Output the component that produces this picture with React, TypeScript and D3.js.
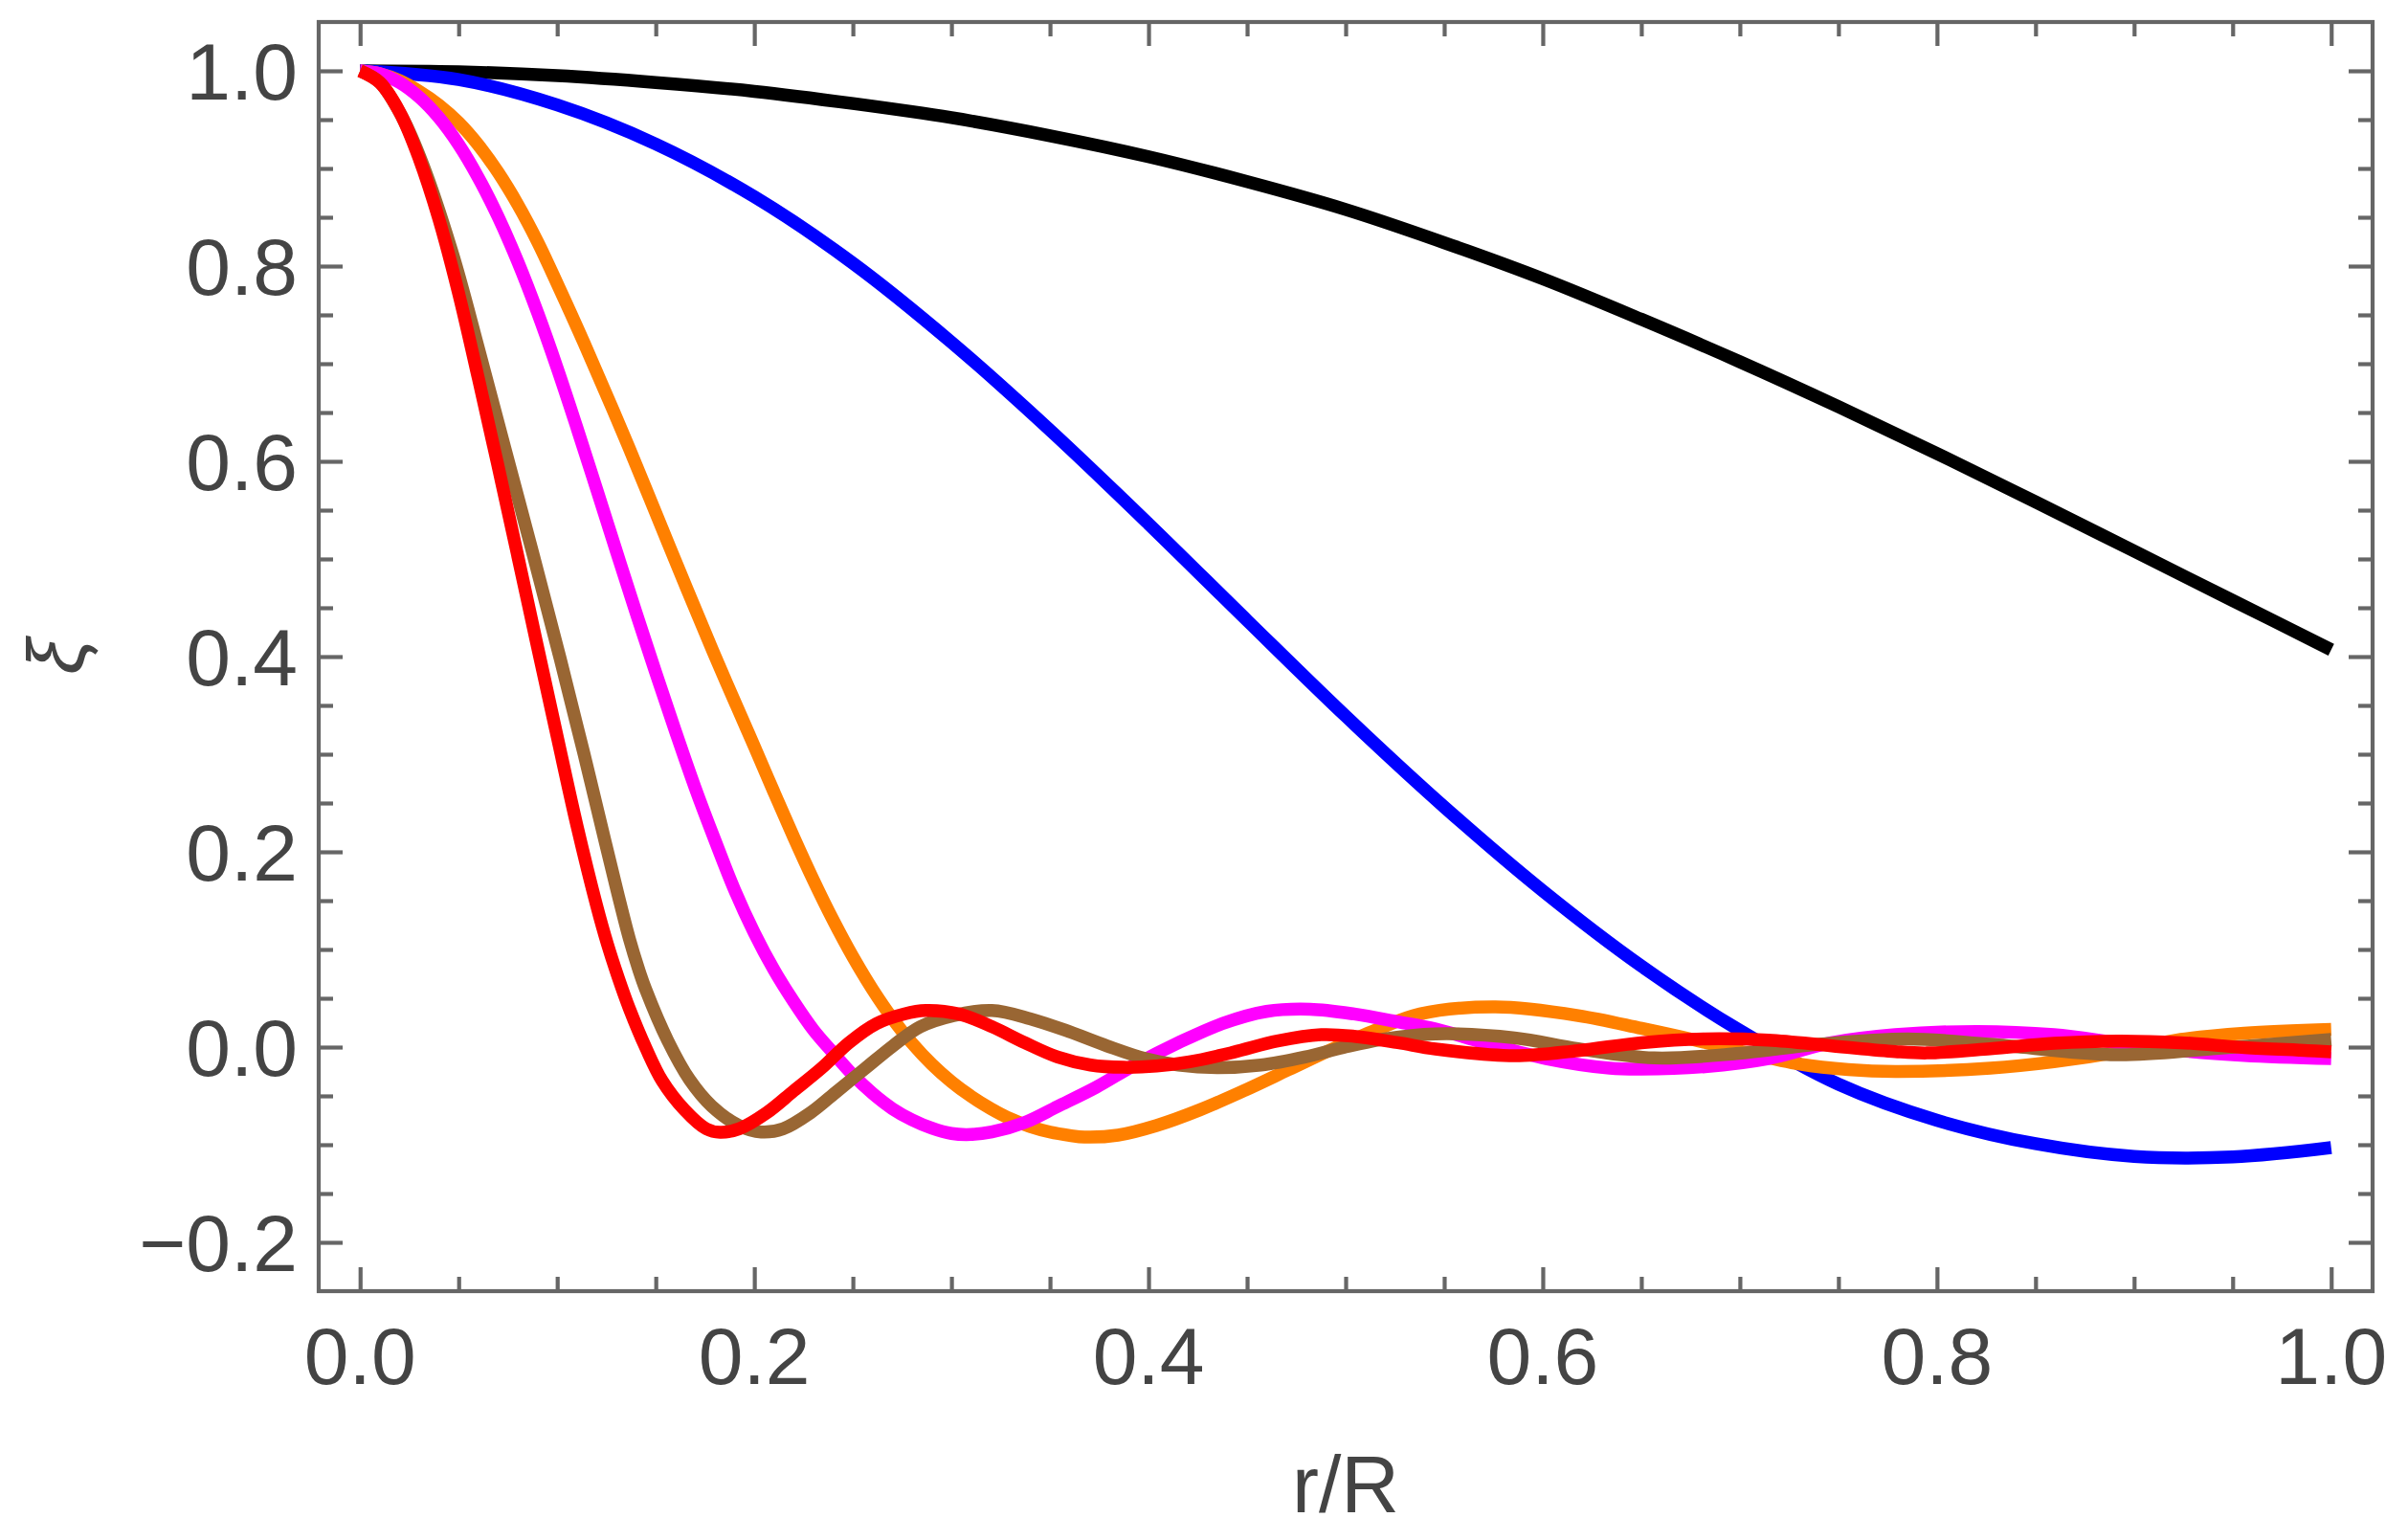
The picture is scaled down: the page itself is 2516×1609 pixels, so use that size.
import * as d3 from 'd3'
import React, { useRef, useEffect } from 'react'

// curves: r/R and xi for each colour
const blackR = [0, 0.05, 0.1, 0.15, 0.2, 0.25, 0.3, 0.35, 0.4, 0.45, 0.5, 0.55, 0.6, 0.65, 0.7, 0.75, 0.8, 0.85, 0.9, 0.95, 1]
const blackXi = [1, 0.999, 0.995, 0.988, 0.979, 0.9665, 0.952, 0.9335, 0.912, 0.8865, 0.858, 0.824, 0.787, 0.7455, 0.702, 0.656, 0.608, 0.5585, 0.508, 0.4575, 0.407]

const blueR = [0, 0.05, 0.1, 0.15, 0.2, 0.25, 0.3, 0.35, 0.4, 0.45, 0.5, 0.55, 0.6, 0.65, 0.7, 0.75, 0.8, 0.85, 0.9, 0.95, 1]
const blueXi = [1, 0.991, 0.965, 0.925, 0.871, 0.803, 0.722, 0.632, 0.536, 0.437, 0.339, 0.246, 0.16, 0.083, 0.017, -0.038, -0.075, -0.099, -0.112, -0.1125, -0.103]

const orangeR = [0, 0.01, 0.02, 0.03, 0.04, 0.05, 0.06, 0.07, 0.08, 0.09, 0.1, 0.1136, 0.1362, 0.1573, 0.1791, 0.2, 0.21, 0.22, 0.23, 0.24, 0.25, 0.26, 0.27, 0.28, 0.29, 0.3, 0.31, 0.32, 0.33, 0.34, 0.35, 0.36, 0.3675, 0.3845, 0.404, 0.4263, 0.4486, 0.4709, 0.4932, 0.5155, 0.5377, 0.576, 0.6179, 0.6501, 0.6758, 0.7016, 0.7306, 0.755, 0.7788, 0.8271, 0.8593, 0.8915, 0.9237, 0.9559, 1]
const orangeXi = [1, 0.997, 0.99, 0.979, 0.965, 0.947, 0.924, 0.896, 0.863, 0.825, 0.782, 0.7213, 0.6151, 0.511, 0.405, 0.308, 0.261, 0.215, 0.171, 0.13, 0.0925, 0.059, 0.0295, 0.004, -0.0175, -0.0355, -0.0505, -0.063, -0.0735, -0.0815, -0.087, -0.0905, -0.0922, -0.0902, -0.0804, -0.0641, -0.0445, -0.0233, -0.002, 0.0176, 0.0339, 0.0411, 0.0323, 0.0192, 0.0078, -0.0049, -0.0175, -0.023, -0.0249, -0.0216, -0.0151, -0.0053, 0.0078, 0.0143, 0.0182]

const magentaR = [0, 0.01, 0.02, 0.03, 0.04, 0.05, 0.06, 0.07, 0.08, 0.09, 0.1, 0.11, 0.12, 0.13, 0.14, 0.15, 0.16, 0.17, 0.18, 0.19, 0.2, 0.21, 0.22, 0.23, 0.24, 0.25, 0.26, 0.27, 0.28, 0.29, 0.3, 0.31, 0.3205, 0.3372, 0.3539, 0.3734, 0.3929, 0.4152, 0.4375, 0.4598, 0.482, 0.5043, 0.5266, 0.5456, 0.5696, 0.6018, 0.634, 0.6501, 0.6823, 0.7144, 0.7466, 0.7788, 0.8206, 0.8593, 0.8915, 0.9237, 0.9559, 1]
const magentaXi = [1, 0.997, 0.988, 0.973, 0.952, 0.9245, 0.8905, 0.8505, 0.8045, 0.7525, 0.6955, 0.6345, 0.5715, 0.508, 0.445, 0.3835, 0.3235, 0.2655, 0.212, 0.161, 0.117, 0.079, 0.0465, 0.0175, -0.006, -0.0285, -0.0475, -0.063, -0.0745, -0.083, -0.0885, -0.0895, -0.087, -0.0772, -0.0608, -0.0412, -0.0184, 0.0045, 0.0241, 0.0365, 0.0388, 0.0339, 0.0258, 0.0185, 0.005, -0.0118, -0.0216, -0.0226, -0.02, -0.0118, 0.0045, 0.0127, 0.016, 0.0127, 0.0045, -0.0036, -0.0085, -0.0118]

const brownR = [0, 0.01, 0.0215, 0.032, 0.047, 0.06, 0.0735, 0.088, 0.1015, 0.1135, 0.1245, 0.131, 0.1366, 0.1411, 0.1449, 0.1561, 0.1672, 0.1784, 0.1923, 0.2035, 0.2146, 0.2285, 0.2424, 0.2564, 0.2703, 0.2842, 0.301, 0.3205, 0.34, 0.3595, 0.379, 0.3984, 0.4152, 0.4347, 0.457, 0.4793, 0.4988, 0.5183, 0.5456, 0.5857, 0.6179, 0.6565, 0.6983, 0.7402, 0.7852, 0.8271, 0.8915, 0.9398, 1]
const brownXi = [1, 0.988, 0.952, 0.903, 0.812, 0.716, 0.613, 0.503, 0.398, 0.301, 0.209, 0.155, 0.111, 0.081, 0.059, 0.0065, -0.0335, -0.0605, -0.0805, -0.087, -0.0837, -0.0673, -0.0445, -0.0216, 0.0012, 0.0209, 0.0323, 0.0375, 0.029, 0.016, 0.0012, -0.0118, -0.0184, -0.021, -0.0184, -0.0102, -0.0004, 0.0078, 0.0135, 0.0094, -0.0017, -0.0111, -0.0067, 0.0029, 0.0084, 0.0029, -0.0079, -0.0017, 0.0078]

const redR = [0, 0.01, 0.02, 0.03, 0.04, 0.05, 0.06, 0.07, 0.08, 0.09, 0.1, 0.11, 0.12, 0.1254, 0.131, 0.1366, 0.145, 0.1533, 0.1645, 0.1756, 0.1826, 0.1923, 0.2063, 0.2202, 0.2341, 0.248, 0.262, 0.2759, 0.287, 0.3038, 0.3205, 0.3372, 0.3539, 0.3706, 0.3873, 0.4041, 0.4208, 0.4431, 0.4654, 0.4876, 0.5043, 0.5266, 0.5456, 0.5857, 0.6179, 0.6501, 0.6823, 0.7144, 0.7466, 0.7788, 0.7949, 0.8271, 0.8593, 0.8915, 0.9237, 0.9559, 0.988, 1]
const redXi = [1, 0.988, 0.958, 0.91, 0.848, 0.772, 0.685, 0.595, 0.503, 0.41, 0.318, 0.227, 0.145, 0.106, 0.071, 0.0395, -0.001, -0.0347, -0.0641, -0.0837, -0.0873, -0.0837, -0.0673, -0.0445, -0.0216, 0.0045, 0.0241, 0.0339, 0.0375, 0.0339, 0.0209, 0.0045, -0.0102, -0.0184, -0.0207, -0.0194, -0.0151, -0.0053, 0.0062, 0.0127, 0.0111, 0.0045, -0.002, -0.0089, -0.0036, 0.0045, 0.0084, 0.0071, 0.0013, -0.0046, -0.006, -0.0017, 0.0039, 0.0062, 0.0045, -0.0004, -0.0036, -0.005]

const xMajor = [0, 0.2, 0.4, 0.6, 0.8, 1.0]
const xLabels = ['0.0', '0.2', '0.4', '0.6', '0.8', '1.0']
const yMajor = [-0.2, 0, 0.2, 0.4, 0.6, 0.8, 1.0]
const yLabels = ['\u22120.2', '0.0', '0.2', '0.4', '0.6', '0.8', '1.0']

const series = [
  { r: blackR, xi: blackXi, color: '#000000' },
  { r: blueR, xi: blueXi, color: '#0000ff' },
  { r: orangeR, xi: orangeXi, color: '#ff8000' },
  { r: magentaR, xi: magentaXi, color: '#ff00ff' },
  { r: brownR, xi: brownXi, color: '#996633' },
  { r: redR, xi: redXi, color: '#ff0000' },
]

const Chart = () => {
  const ref = useRef(null)

  useEffect(() => {
    draw()
  }, [])

  const draw = () => {
    const totalWidth = 2516
    const totalHeight = 1609
    const left = 333
    const right = 2479
    const top = 23
    const bottom = 1349

    const xScale = d3.scaleLinear().domain([-0.021, 1.021]).range([left, right])
    const yScale = d3.scaleLinear().domain([-0.25, 1.05]).range([bottom, top])

    const svg = d3.select(ref.current).attr('width', totalWidth).attr('height', totalHeight)
    svg.selectAll('*').remove()

    const font = "'Liberation Sans', Arial, sans-serif"
    const axisColor = '#666666'
    const textColor = '#444444'

    const xMinor = d3.range(0, 1.0001, 0.05).filter((v) => !xMajor.some((m) => Math.abs(m - v) < 1e-6))
    const yMinor = d3.range(-0.2, 1.0001, 0.05).filter((v) => !yMajor.some((m) => Math.abs(m - v) < 1e-6))

    // curves
    const line = d3
      .line()
      .x((d: any) => xScale(d[0]))
      .y((d: any) => yScale(d[1]))
      .curve(d3.curveCatmullRom.alpha(0.5))

    series.forEach((s) => {
      const pts = s.r.map((r, i) => [r, s.xi[i]])
      svg
        .append('path')
        .datum(pts)
        .attr('fill', 'none')
        .attr('stroke', s.color)
        .attr('stroke-width', 13.5)
        .attr('stroke-linejoin', 'round')
        .attr('d', line as any)
    })

    // inward ticks on all four sides
    const addAxis = (axis: any, tx: number, ty: number) => {
      const g = svg.append('g').attr('transform', `translate(${tx},${ty})`).call(axis)
      g.select('.domain').remove()
      g.selectAll('text').remove()
      g.selectAll('line').attr('stroke', axisColor).attr('stroke-width', 4.2)
    }

    addAxis(d3.axisBottom(xScale).tickValues(xMajor).tickSize(-25), 0, bottom)
    addAxis(d3.axisBottom(xScale).tickValues(xMinor).tickSize(-15), 0, bottom)
    addAxis(d3.axisTop(xScale).tickValues(xMajor).tickSize(-25), 0, top)
    addAxis(d3.axisTop(xScale).tickValues(xMinor).tickSize(-15), 0, top)
    addAxis(d3.axisLeft(yScale).tickValues(yMajor).tickSize(-25), left, 0)
    addAxis(d3.axisLeft(yScale).tickValues(yMinor).tickSize(-15), left, 0)
    addAxis(d3.axisRight(yScale).tickValues(yMajor).tickSize(-25), right, 0)
    addAxis(d3.axisRight(yScale).tickValues(yMinor).tickSize(-15), right, 0)

    // frame
    svg
      .append('rect')
      .attr('x', left)
      .attr('y', top)
      .attr('width', right - left)
      .attr('height', bottom - top)
      .attr('fill', 'none')
      .attr('stroke', axisColor)
      .attr('stroke-width', 4.2)

    // tick labels
    svg
      .selectAll('.xlab')
      .data(xMajor)
      .enter()
      .append('text')
      .attr('x', (d) => xScale(d))
      .attr('y', 1446)
      .attr('text-anchor', 'middle')
      .style('font-family', font)
      .style('font-size', '84px')
      .attr('fill', textColor)
      .text((d, i) => xLabels[i])

    svg
      .selectAll('.ylab')
      .data(yMajor)
      .enter()
      .append('text')
      .attr('x', 311)
      .attr('y', (d) => yScale(d) + 29.5)
      .attr('text-anchor', 'end')
      .style('font-family', font)
      .style('font-size', '84px')
      .attr('fill', textColor)
      .text((d, i) => yLabels[i])

    // axis titles
    svg
      .append('text')
      .attr('x', (left + right) / 2)
      .attr('y', 1580)
      .attr('text-anchor', 'middle')
      .style('font-family', font)
      .style('font-size', '84px')
      .attr('fill', textColor)
      .text('r/R')

    svg
      .append('text')
      .attr('transform', `translate(88,${(top + bottom) / 2}) rotate(-90)`)
      .attr('text-anchor', 'middle')
      .style('font-family', font)
      .style('font-size', '84px')
      .style('font-style', 'italic')
      .attr('fill', textColor)
      .text('\u03be')
  }

  return <svg ref={ref} style={{ position: 'absolute', left: 0, top: 0, background: '#ffffff' }} />
}

export default function App() {
  return <Chart />
}
